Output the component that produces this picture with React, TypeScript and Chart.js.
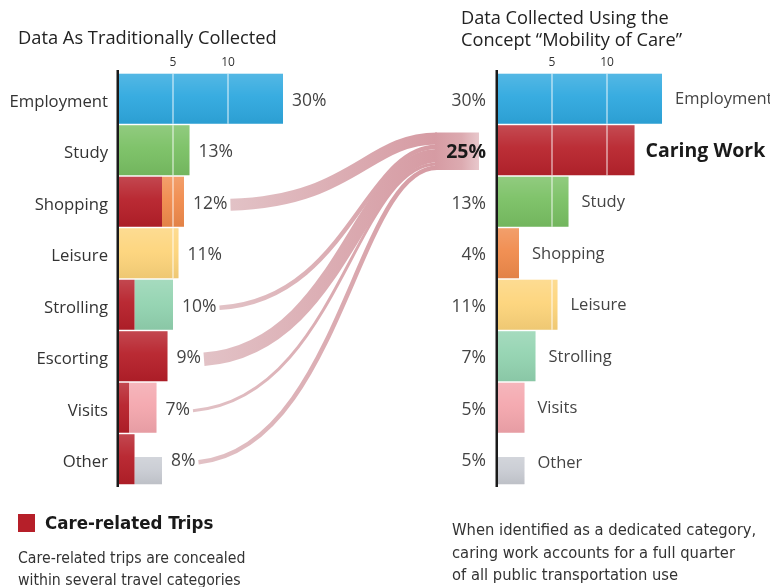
import React, { useEffect, useRef } from "react";
import { Chart, registerables } from "chart.js";
Chart.register(...registerables);

// ---------- data ----------
const leftCategories = ["Employment", "Study", "Shopping", "Leisure", "Strolling", "Escorting", "Visits", "Other"];
const leftCareValues = [0, 0, 8, 0, 3, 9, 2, 3];
const leftRestValues = [30, 13, 4, 11, 7, 0, 5, 0];
const leftOtherBoxValues = [0, 0, 0, 0, 0, 0, 0, 5];

const rightCategories = ["Employment", "Caring Work", "Study", "Shopping", "Leisure", "Strolling", "Visits", "Other"];
const rightValues = [30, 25, 13, 4, 11, 7, 5, 0];
const rightOtherBoxValues = [0, 0, 0, 0, 0, 0, 0, 5];

const axisTickValues = [10, 20];
const axisTickLabels = ["5", "10"];

// ---------- styles ----------
const FONT = "'Open Sans', 'Noto Sans', sans-serif";
const NARROW = "'Liberation Sans Narrow', 'DejaVu Sans Condensed', 'Roboto Condensed', Roboto, sans-serif";
const CARE = "#b61f29";
const leftColors = ["#2ea8df", "#79c063", "#f08a4b", "#fdd47a", "#92d3b0", "#b8232c", "#f4a6ad", "#c9ccd3"];
const rightColors = ["#2ea8df", "#b8232c", "#79c063", "#f08a4b", "#fdd47a", "#92d3b0", "#f4a6ad", "#c9ccd3"];
const BAR_PCT = 0.97;
const BOX_PCT = 0.53;

const L_LEFT = 0, L_TOP = 50, L_W = 330, L_H = 445;
const R_LEFT = 380, R_TOP = 50, R_W = 390, R_H = 445;
const VALUE_FONT = `17.5px ${FONT}`;

const tickLabel = (v: any) => {
  const i = axisTickValues.indexOf(Number(v));
  return i >= 0 ? axisTickLabels[i] : "";
};

const xAxis = (max: number) => ({
  position: "top" as const,
  stacked: true,
  min: 0,
  max,
  afterBuildTicks: (s: any) => { s.ticks = axisTickValues.map((v) => ({ value: v })); },
  afterFit: (s: any) => { s.height = 23; s.paddingLeft = 0; s.paddingRight = 0; },
  ticks: { callback: tickLabel, font: { family: FONT, size: 12 }, color: "#333", padding: 3, autoSkip: false, maxRotation: 0 },
  grid: { display: false, drawTicks: false },
  border: { display: false },
});

const yFit = (w: number) => (s: any) => { s.width = w; s.paddingTop = 0; s.paddingBottom = 0; };

// shading for a slight 3D look; the small "Other" box sits on the bottom of its row
const barStyle = (boxIndex: number) => ({
  id: "barStyle",
  beforeDatasetDraw(chart: any, args: any) {
    chart.ctx.save();
    if (args.index === boxIndex) {
      const row = Math.abs(chart.scales.y.getPixelForValue(1) - chart.scales.y.getPixelForValue(0));
      chart.ctx.translate(0, (row * (BAR_PCT - BOX_PCT)) / 2);
    }
  },
  afterDatasetDraw(chart: any, args: any) {
    const ctx = chart.ctx;
    args.meta.data.forEach((el: any) => {
      const p = el.getProps(["x", "y", "base", "height"], true);
      const lo = Math.min(p.x, p.base), w = Math.abs(p.x - p.base);
      if (w < 1) return;
      const t = p.y - p.height / 2;
      const g = ctx.createLinearGradient(0, t, 0, t + p.height);
      g.addColorStop(0, "rgba(255,255,255,0.18)");
      g.addColorStop(0.45, "rgba(255,255,255,0.05)");
      g.addColorStop(1, "rgba(0,0,0,0.06)");
      ctx.fillStyle = g;
      ctx.fillRect(lo, t, w, p.height);
    });
    ctx.restore();
  },
});

// white reference lines at the tick values, drawn only inside the bars; plus the dark axis line
const barTickLines = {
  id: "barTickLines",
  afterDatasetsDraw(chart: any) {
    const { ctx, scales, chartArea } = chart;
    ctx.save();
    ctx.strokeStyle = "rgba(255,255,255,0.6)";
    ctx.lineWidth = 1.5;
    chart.data.datasets.forEach((_: any, di: number) => {
      const meta = chart.getDatasetMeta(di);
      meta.data.forEach((el: any) => {
        const p = el.getProps(["x", "y", "base", "height"], true);
        const lo = Math.min(p.x, p.base), hi = Math.max(p.x, p.base);
        axisTickValues.forEach((v) => {
          const px = scales.x.getPixelForValue(v);
          if (px > lo + 1 && px < hi - 1) {
            ctx.beginPath();
            ctx.moveTo(px, p.y - p.height / 2);
            ctx.lineTo(px, p.y + p.height / 2);
            ctx.stroke();
          }
        });
      });
    });
    ctx.fillStyle = "#1a1a1a";
    ctx.fillRect(chartArea.left - 1.5, chartArea.top - 3, 2.5, chartArea.bottom - chartArea.top + 5);
    ctx.restore();
  },
};

export default function App() {
  const leftRef = useRef<HTMLCanvasElement>(null);
  const rightRef = useRef<HTMLCanvasElement>(null);
  const ribbonRef = useRef<HTMLCanvasElement>(null);

  useEffect(() => {
    const leftLabels = {
      id: "leftLabels",
      afterDraw(chart: any) {
        const { ctx, scales } = chart;
        ctx.save();
        ctx.font = VALUE_FONT;
        ctx.fillStyle = "#444";
        ctx.textBaseline = "middle";
        leftCategories.forEach((_, i) => {
          const tot = leftCareValues[i] + leftRestValues[i] + leftOtherBoxValues[i];
          ctx.fillText(`${tot}%`, scales.x.getPixelForValue(tot) + 9, scales.y.getPixelForValue(i) + 2);
        });
        ctx.restore();
      },
    };
    const rightLabels = {
      id: "rightLabels",
      afterDraw(chart: any) {
        const { ctx, scales } = chart;
        ctx.save();
        ctx.textBaseline = "middle";
        rightCategories.forEach((name, i) => {
          const v = rightValues[i] + rightOtherBoxValues[i];
          const bold = i === 1;
          ctx.font = bold ? `bold 19.5px ${FONT}` : `16.5px ${FONT}`;
          ctx.fillStyle = bold ? "#1a1a1a" : "#444";
          ctx.fillText(name, scales.x.getPixelForValue(v) + (bold ? 11 : 13), scales.y.getPixelForValue(i) + (i === 7 ? 4 : 1));
        });
        ctx.restore();
      },
    };

    const yAxis = (width: number, ticks: any) => ({
      stacked: true,
      afterFit: yFit(width),
      ticks,
      grid: { display: false, drawTicks: false },
      border: { display: false },
    });

    const left = new Chart(leftRef.current!, {
      type: "bar",
      data: {
        labels: leftCategories,
        datasets: [
          { data: leftCareValues, backgroundColor: CARE, barPercentage: BAR_PCT, categoryPercentage: 1 },
          { data: leftRestValues, backgroundColor: leftColors, barPercentage: BAR_PCT, categoryPercentage: 1 },
          { data: leftOtherBoxValues, backgroundColor: leftColors, barPercentage: BOX_PCT, categoryPercentage: 1 },
        ],
      },
      options: {
        indexAxis: "y",
        responsive: false,
        animation: false,
        layout: { padding: { left: 0, right: 14, top: 0, bottom: 10 } },
        plugins: { legend: { display: false }, tooltip: { enabled: false } },
        scales: {
          x: xAxis(36) as any,
          y: yAxis(118, { font: { family: FONT, size: 16.7 }, color: "#333", padding: 10, labelOffset: 3 }) as any,
        },
      },
      plugins: [barStyle(2), barTickLines, leftLabels],
    });

    const right = new Chart(rightRef.current!, {
      type: "bar",
      data: {
        labels: rightCategories,
        datasets: [
          { data: rightValues, backgroundColor: rightColors, barPercentage: BAR_PCT, categoryPercentage: 1 },
          { data: rightOtherBoxValues, backgroundColor: rightColors, barPercentage: BOX_PCT, categoryPercentage: 1 },
        ],
      },
      options: {
        indexAxis: "y",
        responsive: false,
        animation: false,
        layout: { padding: { left: 0, right: 53, top: 0, bottom: 10 } },
        plugins: { legend: { display: false }, tooltip: { enabled: false } },
        scales: {
          x: xAxis(40) as any,
          y: yAxis(117, {
            callback: (_v: any, i: number) => `${rightValues[i] + rightOtherBoxValues[i]}%`,
            font: (c: any) => (c.index === 1 ? { family: FONT, size: 19.5, weight: "bold" } : { family: FONT, size: 17.5 }),
            color: (c: any) => (c.index === 1 ? "#1a1a1a" : "#444"),
            padding: 11,
            labelOffset: 2,
          }) as any,
        },
      },
      plugins: [barStyle(1), barTickLines, rightLabels],
    });

    // ribbons (flows of care-related trips into the Caring Work category)
    const rc = ribbonRef.current!.getContext("2d")!;
    rc.clearRect(0, 0, 770, 587);
    const lx = left.scales.x, ly = left.scales.y, ry = right.scales.y;
    const endX = R_LEFT + right.chartArea.left - 62;
    const centerY = R_TOP + ry.getPixelForValue(1) + 1;
    const flows = leftCareValues.map((_, i) => i).filter((i) => leftCareValues[i] > 0);
    const widths = flows.map((i) => leftCareValues[i] * 1.5);
    const totalW = widths.reduce((a, b) => a + b, 0);
    let cursor = centerY - totalW / 2;
    rc.font = VALUE_FONT;
    const endColor = "rgb(214,155,163)";
    flows.forEach((i, k) => {
      const tot = leftCareValues[i] + leftRestValues[i] + leftOtherBoxValues[i];
      const label = `${tot}%`;
      const sx = L_LEFT + lx.getPixelForValue(tot) + 9 + rc.measureText(label).width + 3;
      const sy = L_TOP + ly.getPixelForValue(i) + 3;
      const w = widths[k];
      const ey = cursor + w / 2;
      cursor += w;
      const dx = endX - sx, dy = sy - ey;
      const g = rc.createLinearGradient(sx, 0, endX, 0);
      g.addColorStop(0, "rgb(226,194,198)");
      g.addColorStop(1, endColor);
      rc.strokeStyle = g;
      rc.lineWidth = w;
      rc.lineCap = "butt";
      rc.beginPath();
      rc.moveTo(sx, sy);
      rc.bezierCurveTo(sx + 0.6 * dx, sy - 0.05 * dy, endX - 0.33 * dx, ey, endX + 2, ey);
      rc.stroke();
    });
    const top = centerY - totalW / 2, bot = centerY + totalW / 2;
    const pg = rc.createLinearGradient(endX, 0, endX + 44, 0);
    pg.addColorStop(0, endColor);
    pg.addColorStop(0.6, "rgb(220,170,176)");
    pg.addColorStop(1, "rgb(232,200,204)");
    rc.fillStyle = pg;
    rc.fillRect(endX, top, 44, bot - top);

    return () => {
      left.destroy();
      right.destroy();
    };
  }, []);

  const abs = (l: number, t: number, extra: any = {}) => ({ position: "absolute" as const, left: l, top: t, whiteSpace: "nowrap" as const, ...extra });

  return (
    <div style={{ position: "absolute", left: 0, top: 0, width: 770, height: 587, overflow: "hidden", background: "#fff" }}>
      <canvas ref={ribbonRef} width={770} height={587} style={abs(0, 0)} />
      <canvas ref={leftRef} width={L_W} height={L_H} style={abs(L_LEFT, L_TOP)} />
      <canvas ref={rightRef} width={R_W} height={R_H} style={abs(R_LEFT, R_TOP)} />
      <div style={abs(18, 25, { font: `500 18.3px ${FONT}`, lineHeight: "23px", color: "#222" })}>Data As Traditionally Collected</div>
      <div style={abs(461, 6, { font: `500 18.2px ${FONT}`, lineHeight: "22px", color: "#222" })}>
        Data Collected Using the<br />Concept “Mobility of Care”
      </div>
      <div style={abs(18, 514, { width: 17, height: 18, background: CARE })} />
      <div style={abs(45, 511, { font: `bold 18.5px ${NARROW}`, lineHeight: "24px", color: "#1a1a1a" })}>Care-related Trips</div>
      <div style={abs(18, 547, { font: `15.7px ${NARROW}`, lineHeight: "22px", color: "#333" })}>
        Care-related trips are concealed<br />within several travel categories
      </div>
      <div style={abs(452, 519, { font: `16.4px ${NARROW}`, lineHeight: "22.5px", color: "#333" })}>
        When identified as a dedicated category,<br />caring work accounts for a full quarter<br />of all public transportation use
      </div>
    </div>
  );
}
